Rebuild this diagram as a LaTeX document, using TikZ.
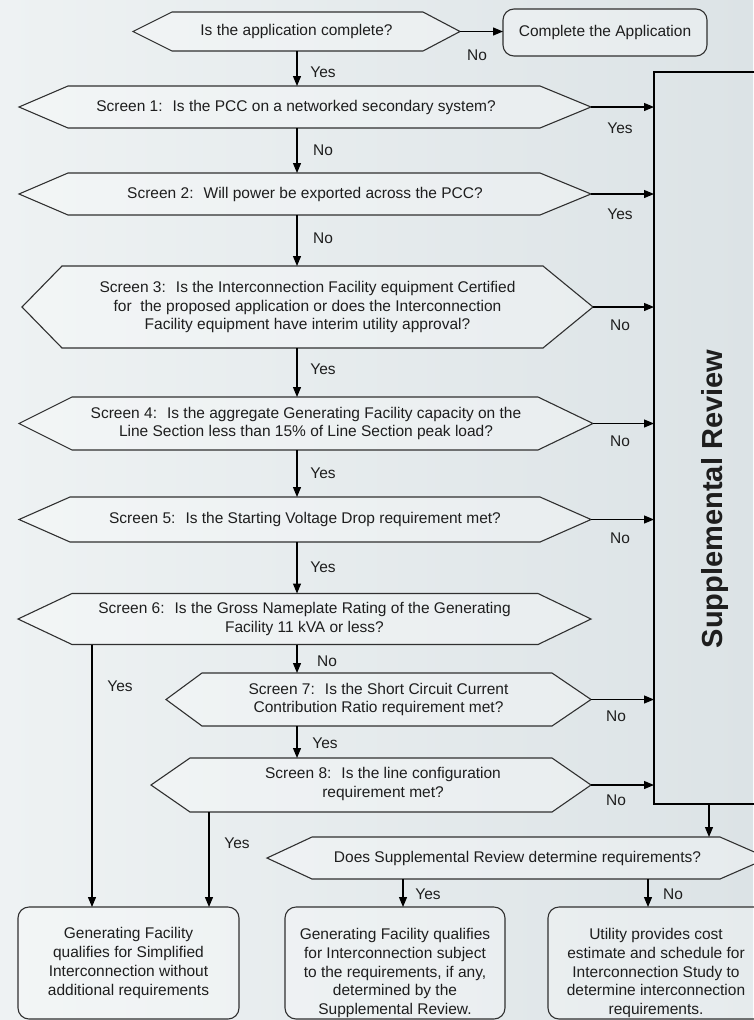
\documentclass[tikz,border=0pt]{standalone}
\usepackage{fontspec}
\setmainfont{Liberation Sans}
\usetikzlibrary{arrows.meta,calc}
\pgfdeclarelayer{bg}
\pgfsetlayers{bg,main}
\definecolor{bgA}{HTML}{EEF2F3}
\definecolor{bgB}{HTML}{DCE3E6}
\definecolor{ink}{HTML}{1E1E1E}
\definecolor{edge}{HTML}{303030}
\begin{document}
\begin{tikzpicture}[x=1pt,y=-1pt,
  every node/.style={font=\fontsize{15.5}{18.8}\selectfont, text=ink, inner sep=0pt, outer sep=0pt},
  hexnode/.style={align=center},
  hexline/.style={draw=edge, line width=1.1pt, fill=white, fill opacity=0.3, line join=miter},
  rbox/.style={draw=edge, line width=1.1pt, fill=white, fill opacity=0.3, text opacity=1, rounded corners=11pt, align=center},
  sqbox/.style={draw=black, line width=1.2pt},
  arr/.style={draw=black, line width=1.2pt, -{Triangle[length=10pt,width=8pt]}},
  srfont/.style={font=\bfseries\fontsize{29}{34}\selectfont}
]
\useasboundingbox (0,0) rectangle (753,1020);

% decision shapes (outlines drawn on the background layer)
\node[hexnode, minimum width=327, minimum height=39] (q0) at (296.5,31.5) {Is the application complete?};
\node[rbox, minimum width=204, minimum height=47] (cb) at (605,32.5) {Complete the Application};
\node[minimum width=572, minimum height=42] (s1) at (305,107) {};
\node (s1t) at (296,107) {Screen 1:~ Is the PCC on a networked secondary system?};
\node[hexnode, minimum width=572, minimum height=42] (s2) at (305,194) {Screen 2:~ Will power be exported across the PCC?};
\node[hexnode, minimum width=571, minimum height=82] (s3) at (307.5,307) {Screen 3:~ Is the Interconnection Facility equipment Certified\\for~ the proposed application or does the Interconnection\\Facility equipment have interim utility approval?};
\node[hexnode, minimum width=574, minimum height=53] (s4) at (306,423.5) {Screen 4:~ Is the aggregate Generating Facility capacity on the\\Line Section less than 15\% of Line Section peak load?};
\node[hexnode, minimum width=572, minimum height=45] (s5) at (305,519.5) {Screen 5:~ Is the Starting Voltage Drop requirement met?};
\node[hexnode, minimum width=573, minimum height=51] (s6) at (304.5,619) {Screen 6:~ Is the Gross Nameplate Rating of the Generating\\Facility 11 kVA or less?};
\node[hexnode, minimum width=425, minimum height=53] (s7) at (378.5,699.5) {Screen 7:~ Is the Short Circuit Current\\Contribution Ratio requirement met?};
\node[minimum width=440, minimum height=54] (s8) at (371,785) {};
\node[align=center] (s8t) at (383,784) {Screen 8:~ Is the line configuration\\requirement met?};

% supplemental review
\node[sqbox, minimum width=136, minimum height=732] (sr) at (722,438) {};
\node[srfont, rotate=90] (srt) at (715,499) {Supplemental Review};
\node[hexnode, minimum width=501, minimum height=42] (q9) at (517.5,858) {Does Supplemental Review determine requirements?};

% outcome boxes
\node[rbox, minimum width=221, minimum height=112] (b1) at (128.5,963) {Generating Facility\\qualifies for Simplified\\Interconnection without\\additional requirements};
\node[rbox, minimum width=220, minimum height=112] (b2) at (395,963) {};
\node[align=center] (b2t) at (395,973) {Generating Facility qualifies\\for Interconnection subject\\to the requirements, if any,\\determined by the\\Supplemental Review.};
\node[rbox, minimum width=220, minimum height=112] (b3) at (658,963) {};
\node[align=center] (b3t) at (656,973) {Utility provides cost\\estimate and schedule for\\Interconnection Study to\\determine interconnection\\requirements.};

% helper x positions
\coordinate (sp) at (297,0);
\coordinate (yl) at (92,0);
\coordinate (yr) at (209,0);
\coordinate (sx) at (709,0);
\coordinate (ya) at (403,0);
\coordinate (na) at (648,0);

% connectors
\draw[arr] (q0.east) -- (q0.east -| cb.west);
\draw[arr] (q0.south -| sp) -- (s1.north -| sp);
\draw[arr] (s1.south -| sp) -- (s2.north -| sp);
\draw[arr] (s2.south -| sp) -- (s3.north -| sp);
\draw[arr] (s3.south -| sp) -- (s4.north -| sp);
\draw[arr] (s4.south -| sp) -- (s5.north -| sp);
\draw[arr] (s5.south -| sp) -- (s6.north -| sp);
\draw[arr] (s6.south -| sp) -- (s7.north -| sp);
\draw[arr] (s7.south -| sp) -- (s8.north -| sp);
\foreach \n in {s1,s2,s3,s4,s5,s7,s8}
  \draw[arr] (\n.east) -- (\n.east -| sr.west);
\draw[arr] (s6.south -| yl) -- (b1.north -| yl);
\draw[arr] (s8.south -| yr) -- (b1.north -| yr);
\draw[arr] (sr.south -| sx) -- (q9.north -| sx);
\draw[arr] (q9.south -| ya) -- (b2.north -| ya);
\draw[arr] (q9.south -| na) -- (b3.north -| na);

% labels
\node (l1) at (477,55) {No};
\node (l2) at (323,72) {Yes};
\node (l3) at (620,128) {Yes};
\node (l4) at (323,150) {No};
\node (l5) at (620,214) {Yes};
\node (l6) at (323,238) {No};
\node (l7) at (620,325) {No};
\node (l8) at (323,369) {Yes};
\node (l9) at (620,441) {No};
\node (l10) at (323,473) {Yes};
\node (l11) at (620,538) {No};
\node (l12) at (323,567) {Yes};
\node (l13) at (327,661) {No};
\node (l14) at (120,686) {Yes};
\node (l15) at (616,716) {No};
\node (l16) at (325,743) {Yes};
\node (l17) at (616,800) {No};
\node (l18) at (237,843) {Yes};
\node (l19) at (428,894) {Yes};
\node (l20) at (673,894) {No};

\begin{pgfonlayer}{bg}
  \fill[left color=bgA, right color=bgB] (0,0) rectangle (753,1020);
  \foreach \n/\a/\b in {q0/39/37, s1/49/51, s2/49/51, s3/40/50, s4/53/55, s5/51/51, s6/54/53, s7/36/39, s8/39/39, q9/45/48}
    \draw[hexline] (\n.west) -- ([xshift=\a]\n.north west) -- ([xshift=-\b]\n.north east) -- (\n.east) -- ([xshift=-\b]\n.south east) -- ([xshift=\a]\n.south west) -- cycle;
\end{pgfonlayer}
\end{tikzpicture}
\end{document}
